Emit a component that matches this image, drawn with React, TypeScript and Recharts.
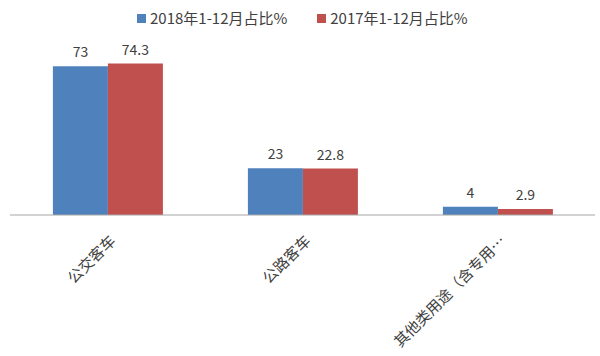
import { BarChart, Bar, XAxis, YAxis, LabelList } from "recharts";

const categories = ["公交客车", "公路客车", "其他类用途（含专用…"];
const share2018 = [73, 23, 4];
const share2017 = [74.3, 22.8, 2.9];
const seriesNames = ["2018年1-12月占比%", "2017年1-12月占比%"];
const colors = ["#4F81BD", "#C0504D"];

const data = categories.map((name, i) => ({
  name,
  y2018: share2018[i],
  y2017: share2017[i],
}));

const FONT = "'Noto Sans CJK SC', 'Noto Sans', sans-serif";

function CategoryTick(props: any) {
  const { x, y, payload } = props;
  return (
    <g transform={`translate(${x + 9},${y + 19})`}>
      <text
        textAnchor="end"
        transform="rotate(-45)"
        fontSize={15}
        fill="#404040"
        fontFamily={FONT}
      >
        {payload.value}
      </text>
    </g>
  );
}

export default function App() {
  return (
    <div
      style={{
        position: "absolute",
        left: 0,
        top: 0,
        width: 600,
        height: 356,
        background: "#fff",
        fontFamily: FONT,
      }}
    >
      <div
        style={{
          position: "absolute",
          top: 8,
          left: 137,
          display: "flex",
          gap: 30,
          fontSize: 15,
          color: "#404040",
          lineHeight: "20px",
        }}
      >
        {seriesNames.map((s, i) => (
          <div key={s} style={{ display: "flex", alignItems: "center" }}>
            <span
              style={{
                width: 9,
                height: 9,
                background: colors[i],
                marginRight: 4,
                display: "inline-block",
              }}
            />
            {s}
          </div>
        ))}
      </div>
      <BarChart
        width={600}
        height={356}
        data={data}
        margin={{ top: 52, right: 5, left: 10, bottom: 0 }}
        barCategoryGap="22%"
        barGap={0}
      >
        <XAxis
          dataKey="name"
          height={141}
          interval={0}
          tickLine={false}
          axisLine={{ stroke: "#A6A6A6" }}
          tick={<CategoryTick />}
        />
        <YAxis hide domain={[0, 80]} />
        <Bar dataKey="y2018" fill={colors[0]} isAnimationActive={false}>
          <LabelList
            dataKey="y2018"
            position="top"
            offset={9}
            fontSize={14}
            fill="#404040"
          />
        </Bar>
        <Bar dataKey="y2017" fill={colors[1]} isAnimationActive={false}>
          <LabelList
            dataKey="y2017"
            position="top"
            offset={9}
            fontSize={14}
            fill="#404040"
          />
        </Bar>
      </BarChart>
    </div>
  );
}
